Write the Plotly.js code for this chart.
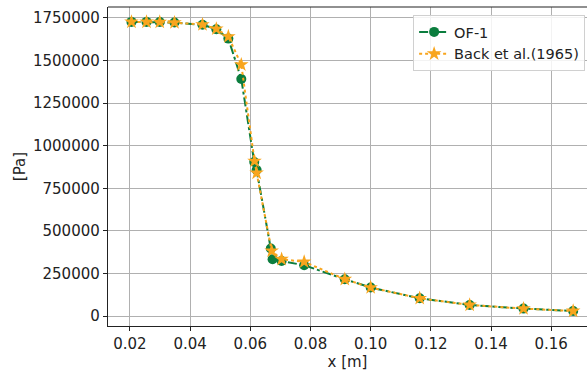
<!DOCTYPE html>
<html><head><meta charset="utf-8">
<script src="https://cdn.plot.ly/plotly-3.0.1.min.js"></script>
<style>html,body{margin:0;padding:0;background:#fff}#chart{width:587px;height:374px}</style>
</head><body><div id="chart"></div>
<script>
const of1X = [0.0205, 0.0255, 0.0299, 0.0348, 0.0441, 0.0487, 0.0527, 0.0570, 0.0613, 0.0621, 0.0668, 0.0674, 0.0704, 0.0779, 0.0914, 0.1000, 0.1163, 0.1329, 0.1508, 0.1673];
const of1Y = [1727000, 1727000, 1726000, 1723000, 1710000, 1684000, 1629000, 1392000, 904000, 857000, 396000, 333000, 323000, 298000, 216000, 167000, 104000, 65000, 43500, 29400];
const backX = [0.0205, 0.0255, 0.0299, 0.0348, 0.0441, 0.0487, 0.0527, 0.0570, 0.0614, 0.0621, 0.0671, 0.0704, 0.0779, 0.0914, 0.1000, 0.1163, 0.1329, 0.1508, 0.1673];
const backY = [1727000, 1727000, 1726000, 1723000, 1711000, 1686000, 1641000, 1476000, 910000, 840000, 382000, 333500, 318000, 216000, 167000, 104000, 65000, 43500, 29400];
const xTicks = [0.02, 0.04, 0.06, 0.08, 0.10, 0.12, 0.14, 0.16];
const yTicks = [0, 250000, 500000, 750000, 1000000, 1250000, 1500000, 1750000];
const seriesNames = ['OF-1', 'Back et al.(1965)'];

const font = {family: 'DejaVu Sans', size: 15, color: '#222'};
const traces = [
  {x: of1X, y: of1Y, name: seriesNames[0], mode: 'lines+markers', type: 'scatter',
   line: {color: '#0b7d3e', width: 2, dash: 'dashdot'},
   marker: {color: '#0b7d3e', size: 10, symbol: 'circle'}},
  {x: backX, y: backY, name: seriesNames[1], mode: 'lines+markers', type: 'scatter',
   line: {color: '#f8a51d', width: 2, dash: 'dot'},
   marker: {color: '#f8a51d', size: 11, symbol: 'star'}}
];
const layout = {
  width: 587, height: 374,
  margin: {l: 108, r: 0, t: 7, b: 48},
  paper_bgcolor: '#fff', plot_bgcolor: '#fff',
  font: font,
  showlegend: true,
  legend: {x: 0.637, y: 0.975, xanchor: 'left', yanchor: 'top', bgcolor: 'rgba(255,255,255,0.85)',
           bordercolor: '#d0d0d0', borderwidth: 1, font: {family: 'DejaVu Sans', size: 14.5, color: '#222'},
           itemwidth: 30, tracegroupgap: 0},
  xaxis: {range: [0.0127, 0.1719], tickvals: xTicks, tickformat: '.2f',
          showgrid: true, gridcolor: '#b0b0b0', gridwidth: 1, zeroline: false,
          showline: true, linecolor: '#222', linewidth: 1.2, ticks: 'outside', ticklen: 4, tickcolor: '#222',
          title: {text: 'x [m]', font: font, standoff: 4}},
  yaxis: {range: [-58700, 1814500], tickvals: yTicks, tickformat: 'd',
          showgrid: true, gridcolor: '#b0b0b0', gridwidth: 1, zeroline: false,
          showline: true, linecolor: '#222', linewidth: 1.2, ticks: 'outside', ticklen: 4, tickcolor: '#222',
          title: {text: '[Pa]', font: font, standoff: 3}},
  shapes: [{type: 'line', xref: 'paper', yref: 'paper', x0: 0, x1: 1, y0: 1, y1: 1,
            line: {color: '#222', width: 1.2}}]
};
Plotly.newPlot('chart', traces, layout, {staticPlot: true, displayModeBar: false});
</script></body></html>
